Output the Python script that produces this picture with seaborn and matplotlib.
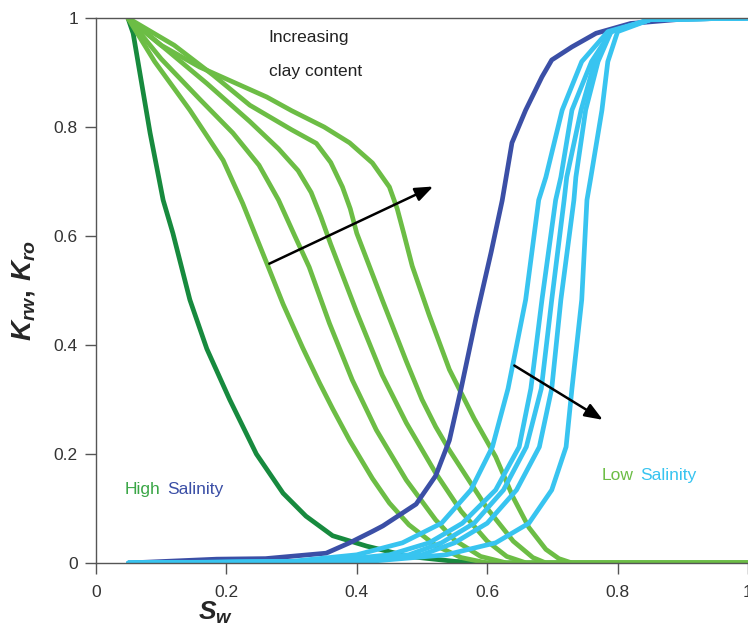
import pandas as pd
import matplotlib
matplotlib.use("Agg")
import matplotlib.pyplot as plt
import seaborn as sns

# Relative permeability curves: oil (kro) and water (krw) vs. water saturation
# High-salinity oil curve
hs_oil_sw = [0.049, 0.057, 0.083, 0.103, 0.118, 0.144, 0.170, 0.205, 0.246, 0.287, 0.322, 0.363, 0.415, 0.48, 0.55, 0.60, 1.0]
hs_oil_kr = [1.0, 0.972, 0.789, 0.666, 0.605, 0.483, 0.393, 0.30, 0.20, 0.128, 0.086, 0.05, 0.031, 0.012, 0.003, 0.0, 0.0]

# High-salinity water curve
hs_wat_sw = [0.05, 0.185, 0.26, 0.353, 0.389, 0.424, 0.44, 0.491, 0.521, 0.542, 0.560, 0.583, 0.606, 0.623, 0.638, 0.659, 0.684, 0.699, 0.73, 0.767, 0.82, 0.90, 1.0]
hs_wat_kr = [0.0, 0.007, 0.008, 0.018, 0.037, 0.058, 0.068, 0.108, 0.16, 0.225, 0.32, 0.45, 0.57, 0.665, 0.771, 0.831, 0.892, 0.923, 0.947, 0.972, 0.99, 0.998, 1.0]

# Low-salinity oil curves (increasing clay content, left to right)
ls_oil_sw = [
    [0.049, 0.09, 0.144, 0.195, 0.225, 0.262, 0.287, 0.317, 0.343, 0.363, 0.389, 0.424, 0.45, 0.48, 0.521, 0.56, 0.60, 1.0],
    [0.049, 0.10, 0.16, 0.21, 0.25, 0.28, 0.305, 0.327, 0.358, 0.393, 0.43, 0.476, 0.521, 0.55, 0.59, 0.63, 1.0],
    [0.049, 0.11, 0.17, 0.236, 0.28, 0.31, 0.33, 0.345, 0.36, 0.40, 0.439, 0.476, 0.521, 0.56, 0.60, 0.63, 0.66, 1.0],
    [0.049, 0.12, 0.18, 0.236, 0.30, 0.338, 0.36, 0.378, 0.39, 0.40, 0.44, 0.476, 0.50, 0.521, 0.542, 0.60, 0.64, 0.67, 0.69, 1.0],
    [0.049, 0.10, 0.159, 0.262, 0.30, 0.35, 0.389, 0.424, 0.45, 0.462, 0.472, 0.485, 0.511, 0.542, 0.58, 0.613, 0.64, 0.664, 0.69, 0.71, 0.73, 1.0],
]
ls_oil_kr = [
    [1.0, 0.92, 0.831, 0.739, 0.66, 0.55, 0.475, 0.395, 0.33, 0.283, 0.225, 0.155, 0.11, 0.07, 0.032, 0.01, 0.0, 0.0],
    [1.0, 0.925, 0.85, 0.789, 0.73, 0.666, 0.60, 0.543, 0.44, 0.336, 0.244, 0.152, 0.079, 0.042, 0.012, 0.0, 0.0],
    [1.0, 0.94, 0.88, 0.81, 0.76, 0.72, 0.68, 0.635, 0.585, 0.46, 0.345, 0.257, 0.165, 0.095, 0.04, 0.012, 0.0, 0.0],
    [1.0, 0.95, 0.895, 0.84, 0.795, 0.77, 0.735, 0.69, 0.65, 0.605, 0.48, 0.37, 0.30, 0.25, 0.207, 0.10, 0.04, 0.01, 0.0, 0.0],
    [1.0, 0.95, 0.91, 0.855, 0.83, 0.80, 0.771, 0.734, 0.69, 0.65, 0.605, 0.545, 0.455, 0.355, 0.265, 0.195, 0.12, 0.065, 0.025, 0.008, 0.0, 0.0],
]

# Low-salinity water curves (increasing clay content, left to right)
ls_wat_kr_levels = [0.0, 0.003, 0.015, 0.037, 0.073, 0.134, 0.213, 0.32, 0.483, 0.666, 0.708, 0.831, 0.92, 0.975, 0.997, 1.0]
ls_wat_sw = [
    [0.05, 0.30, 0.40, 0.47, 0.53, 0.575, 0.608, 0.632, 0.659, 0.679, 0.69, 0.715, 0.745, 0.785, 0.85, 1.0],
    [0.05, 0.35, 0.45, 0.511, 0.562, 0.613, 0.649, 0.667, 0.684, 0.705, 0.713, 0.73, 0.76, 0.79, 0.85, 1.0],
    [0.05, 0.38, 0.48, 0.53, 0.58, 0.625, 0.66, 0.683, 0.699, 0.718, 0.722, 0.744, 0.765, 0.79, 0.85, 1.0],
    [0.05, 0.40, 0.50, 0.55, 0.60, 0.645, 0.68, 0.699, 0.713, 0.733, 0.736, 0.751, 0.77, 0.79, 0.85, 1.0],
    [0.05, 0.42, 0.537, 0.613, 0.664, 0.699, 0.721, 0.73, 0.745, 0.753, 0.759, 0.776, 0.785, 0.80, 0.85, 1.0],
]

tick_values = [0, 0.2, 0.4, 0.6, 0.8, 1]
tick_labels = ["0", "0.2", "0.4", "0.6", "0.8", "1"]

DARK_GREEN = "#178a3e"
LIGHT_GREEN = "#6cbd45"
DARK_BLUE = "#3b4fa6"
LIGHT_BLUE = "#38c4f0"

# Long-form table of all curves
frames = []
def add(name, sw, kr):
    frames.append(pd.DataFrame({"Sw": sw, "kr": kr, "curve": name}))

add("hs_oil", hs_oil_sw, hs_oil_kr)
for i, (sw, kr) in enumerate(zip(ls_oil_sw, ls_oil_kr)):
    add(f"ls_oil_{i}", sw, kr)
add("hs_wat", hs_wat_sw, hs_wat_kr)
for i, sw in enumerate(ls_wat_sw):
    add(f"ls_wat_{i}", sw, ls_wat_kr_levels)
data = pd.concat(frames, ignore_index=True)

order = ["hs_oil"] + [f"ls_oil_{i}" for i in range(5)] + ["hs_wat"] + [f"ls_wat_{i}" for i in range(5)]
palette = {"hs_oil": DARK_GREEN, "hs_wat": DARK_BLUE}
for i in range(5):
    palette[f"ls_oil_{i}"] = LIGHT_GREEN
    palette[f"ls_wat_{i}"] = LIGHT_BLUE

sns.set_theme(style="white")
plt.rcParams["font.family"] = ["Liberation Sans", "DejaVu Sans"]
plt.rcParams["mathtext.fontset"] = "custom"
plt.rcParams["mathtext.it"] = "Liberation Sans:italic:bold"
plt.rcParams["mathtext.rm"] = "Liberation Sans:bold"

fig = plt.figure(figsize=(7.48, 6.32), dpi=100)
ax = fig.add_axes([0.1283, 0.1092, 0.8717, 0.8623])

sns.lineplot(data=data, x="Sw", y="kr", hue="curve", palette=palette, hue_order=order,
             estimator=None, sort=False, linewidth=3.4, legend=False, ax=ax)
for line in ax.lines:
    line.set_solid_capstyle("round")
    line.set_solid_joinstyle("round")

ax.set_xlim(0, 1)
ax.set_ylim(0, 1)
ax.set_xticks(tick_values)
ax.set_xticklabels(tick_labels)
ax.set_yticks(tick_values)
ax.set_yticklabels(tick_labels)
ax.tick_params(axis="both", direction="out", length=8, width=1.0, color="#555555",
               labelsize=12.5, labelcolor="#333333", pad=5)
ax.tick_params(axis="x", bottom=True, pad=8)
ax.tick_params(axis="y", left=True)

for side in ["left", "top", "bottom"]:
    ax.spines[side].set_color("#555555")
    ax.spines[side].set_linewidth(1.0)
ax.spines["right"].set_visible(False)

ax.set_ylabel(r"$K_{rw},\, K_{ro}$", fontsize=20, labelpad=12)
ax.set_xlabel(r"$S_w$", fontsize=19)
ax.xaxis.set_label_coords(0.183, -0.068)

# Annotations
ax.text(0.265, 0.965, "Increasing", fontsize=12.5, color="#222222", ha="left", va="center")
ax.text(0.265, 0.902, "clay content", fontsize=12.5, color="#222222", ha="left", va="center")

ax.annotate("", xy=(0.521, 0.693), xytext=(0.262, 0.547),
            arrowprops=dict(arrowstyle="-|>,head_length=0.9,head_width=0.35", color="black", lw=1.8))
ax.annotate("", xy=(0.781, 0.26), xytext=(0.638, 0.365),
            arrowprops=dict(arrowstyle="-|>,head_length=0.9,head_width=0.35", color="black", lw=1.8))

ax.text(0.044, 0.134, "High", fontsize=12.5, color="#3aa646", ha="left", va="center")
ax.text(0.109, 0.134, "Salinity", fontsize=12.5, color=DARK_BLUE, ha="left", va="center")
ax.text(0.776, 0.160, "Low", fontsize=12.5, color=LIGHT_GREEN, ha="left", va="center")
ax.text(0.834, 0.160, "Salinity", fontsize=12.5, color=LIGHT_BLUE, ha="left", va="center")

fig.savefig("out.png", dpi=100)
